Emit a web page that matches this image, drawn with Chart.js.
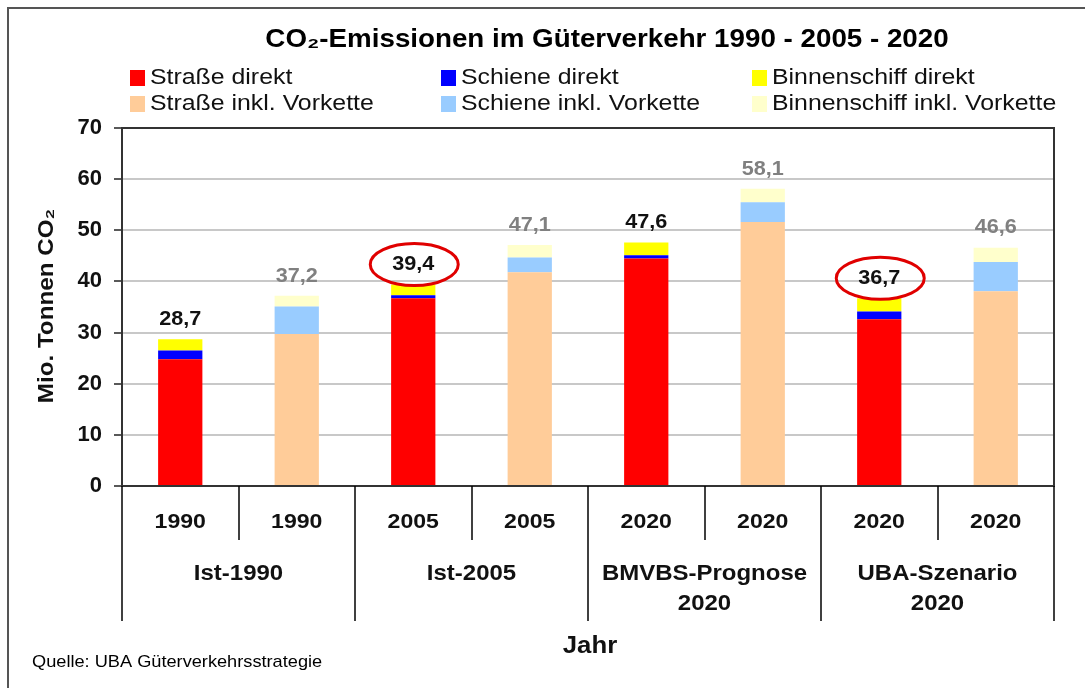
<!DOCTYPE html>
<html>
<head>
<meta charset="utf-8">
<script src="https://cdn.jsdelivr.net/npm/chart.js@4"></script>
<style>
  html, body { margin: 0; padding: 0; background: #fff; }
  canvas { display: block; }
</style>
</head>
<body>
<canvas id="co2Chart" width="1085" height="688"></canvas>
<script>
// Werte (Mio. t CO2)
const categories = ["1990", "1990", "2005", "2005", "2020", "2020", "2020", "2020"];
const groupLabels = [["Ist-1990"], ["Ist-2005"], ["BMVBS-Prognose", "2020"], ["UBA-Szenario", "2020"]];

const strasseDirekt   = [24.8, null, 36.7, null, 44.5, null, 32.6, null];
const schieneDirekt   = [1.7,  null, 0.6,  null, 0.6,  null, 1.5,  null];
const binnenDirekt    = [2.2,  null, 2.1,  null, 2.5,  null, 2.6,  null];
const strasseVorkette = [null, 29.7, null, 41.8, null, 51.6, null, 38.1];
const schieneVorkette = [null, 5.4,  null, 2.9,  null, 3.9,  null, 5.7];
const binnenVorkette  = [null, 2.1,  null, 2.4,  null, 2.6,  null, 2.8];

const totals = [28.7, 37.2, 39.4, 47.1, 47.6, 58.1, 36.7, 46.6];
const markedBars = [2, 6];
const yTicks = [0, 10, 20, 30, 40, 50, 60, 70];

const FONT = "Arial, 'Liberation Sans', sans-serif";

const datasets = [
  { label: "Straße direkt", data: strasseDirekt, backgroundColor: "#ff0000" },
  { label: "Schiene direkt", data: schieneDirekt, backgroundColor: "#0000ff" },
  { label: "Binnenschiff direkt", data: binnenDirekt, backgroundColor: "#ffff00" },
  { label: "Straße inkl. Vorkette", data: strasseVorkette, backgroundColor: "#ffcc99" },
  { label: "Schiene inkl. Vorkette", data: schieneVorkette, backgroundColor: "#99ccff" },
  { label: "Binnenschiff inkl. Vorkette", data: binnenVorkette, backgroundColor: "#ffffcc" }
];

// the original text is a bit wider than Arial, so stretch it a little
function drawText(ctx, str, x, y, font, sx, align) {
  ctx.save();
  ctx.font = font;
  ctx.textAlign = align || "center";
  ctx.textBaseline = "middle";
  ctx.translate(x, y);
  ctx.scale(sx, 1);
  ctx.fillText(str, 0, 0);
  ctx.restore();
}

// everything around the plot: title, legend, labels, axis boxes
const decorations = {
  id: "decorations",
  afterDraw(chart) {
    const ctx = chart.ctx;
    const area = chart.chartArea;
    const x = chart.scales.x;
    const y = chart.scales.y;
    ctx.save();

    // outer frame
    ctx.strokeStyle = "#555";
    ctx.lineWidth = 2;
    ctx.strokeRect(8, 8, 1100, 700);

    // plot border
    ctx.strokeStyle = "#333";
    ctx.lineWidth = 2;
    ctx.strokeRect(area.left, area.top, area.right - area.left, area.bottom - area.top);

    // title
    ctx.fillStyle = "#000";
    drawText(ctx, "CO₂-Emissionen im Güterverkehr 1990 - 2005 - 2020", 607, 40, "bold 25px " + FONT, 1.11);

    // legend, 3 columns x 2 rows
    const cols = [130, 441, 752];
    const rows = [77, 103];
    datasets.forEach((ds, i) => {
      const cx = cols[i % 3];
      const cy = rows[Math.floor(i / 3)];
      ctx.fillStyle = ds.backgroundColor;
      ctx.fillRect(cx, cy - 7, 15, 16);
      ctx.fillStyle = "#111";
      drawText(ctx, ds.label, cx + 20, cy + 1, "22px " + FONT, 1.13, "left");
    });

    // y title
    ctx.save();
    ctx.translate(47, 306);
    ctx.rotate(-Math.PI / 2);
    ctx.fillStyle = "#111";
    drawText(ctx, "Mio. Tonnen CO₂", 0, 0, "bold 22px " + FONT, 1.1);
    ctx.restore();

    // totals above the bars
    totals.forEach((t, i) => {
      const px = x.getPixelForValue(i);
      const py = y.getPixelForValue(t) - 20;
      ctx.fillStyle = i % 2 === 0 ? "#111" : "#808080";
      drawText(ctx, t.toFixed(1).replace(".", ","), px, py, "bold 21px " + FONT, 1.03);
      if (markedBars.includes(i)) {
        ctx.beginPath();
        ctx.ellipse(px + 1, py, 44, 21, 0, 0, Math.PI * 2);
        ctx.strokeStyle = "#e00000";
        ctx.lineWidth = 3;
        ctx.stroke();
      }
    });

    // category axis: separators and labels
    const step = (area.right - area.left) / categories.length;
    ctx.strokeStyle = "#000";
    ctx.lineWidth = 1.5;
    for (let i = 0; i <= categories.length; i++) {
      const lx = Math.round(area.left + i * step);
      const bottom = i % 2 === 0 ? 621 : 540;
      ctx.beginPath();
      ctx.moveTo(lx, area.bottom);
      ctx.lineTo(lx, bottom);
      ctx.stroke();
    }
    ctx.fillStyle = "#111";
    categories.forEach((c, i) => {
      drawText(ctx, c, x.getPixelForValue(i), 522, "bold 21px " + FONT, 1.1);
    });
    groupLabels.forEach((lines, g) => {
      const gx = (x.getPixelForValue(g * 2) + x.getPixelForValue(g * 2 + 1)) / 2;
      lines.forEach((ln, k) => drawText(ctx, ln, gx, 574 + k * 30, "bold 22px " + FONT, 1.09));
    });

    drawText(ctx, "Jahr", 590, 647, "bold 23px " + FONT, 1.12);

    ctx.fillStyle = "#000";
    drawText(ctx, "Quelle: UBA Güterverkehrsstrategie", 32, 662, "17px " + FONT, 1.07, "left");

    ctx.restore();
  }
};

const ctx = document.getElementById("co2Chart").getContext("2d");
const co2Chart = new Chart(ctx, {
  type: "bar",
  data: { labels: categories, datasets: datasets },
  options: {
    responsive: false,
    animation: false,
    devicePixelRatio: 1,
    layout: { padding: { left: 0, top: 128, right: 31, bottom: 202 } },
    datasets: { bar: { categoryPercentage: 1, barPercentage: 0.38, borderWidth: 0 } },
    plugins: {
      legend: { display: false },
      title: { display: false },
      tooltip: { enabled: false }
    },
    scales: {
      x: { stacked: true, display: false },
      y: {
        stacked: true,
        min: 0,
        max: 70,
        afterFit(scale) { scale.width = 122; },
        afterBuildTicks(scale) { scale.ticks = yTicks.map(v => ({ value: v })); },
        ticks: {
          padding: 12,
          color: "#111",
          font: { family: FONT, size: 22, weight: "bold" }
        },
        grid: {
          color: "#c8c8c8",
          lineWidth: 2,
          tickLength: 8,
          tickColor: "#222",
          tickWidth: 1.5
        },
        border: { color: "#222", width: 2 }
      }
    }
  },
  plugins: [decorations]
});
</script>
</body>
</html>
